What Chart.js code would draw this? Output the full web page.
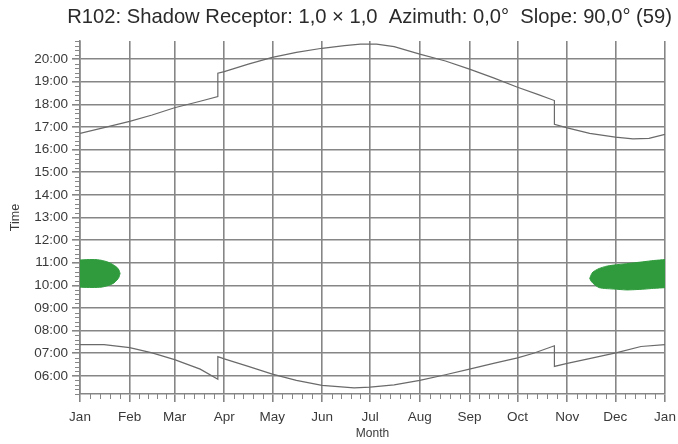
<!DOCTYPE html>
<html><head><meta charset="utf-8">
<script src="https://cdn.jsdelivr.net/npm/chart.js@4.4.0/dist/chart.umd.min.js"></script>
<style>html,body{margin:0;padding:0;background:#fff}</style>
</head><body>
<canvas id="c" width="678" height="444" style="display:block;width:678px;height:444px"></canvas>
<script>
// ---- data ----
const chartTitle = 'R102: Shadow Receptor: 1,0 \u00d7 1,0  Azimuth: 0,0\u00b0  Slope: 90,0\u00b0 (59)';
const monthLabels = ['Jan','Feb','Mar','Apr','May','Jun','Jul','Aug','Sep','Oct','Nov','Dec','Jan'];
const monthStartDays = [0,31,59,90,120,151,181,212,243,273,304,334,365];
const hourTicks = [6,7,8,9,10,11,12,13,14,15,16,17,18,19,20];

// sunset (upper curve), day of year -> decimal hour
const sunsetDays  = [0, 15, 31, 45, 59, 75, 86, 86, 90, 105, 120, 135, 151, 165, 175, 185, 196, 212, 228, 243, 258, 273, 286, 296, 296, 304, 318, 334, 345, 355, 365];
const sunsetHours = [16.72, 16.97, 17.25, 17.53, 17.85, 18.14, 18.35, 19.38, 19.45, 19.78, 20.08, 20.3, 20.48, 20.6, 20.66, 20.66, 20.55, 20.22, 19.92, 19.56, 19.17, 18.76, 18.43, 18.17, 17.12, 16.96, 16.72, 16.55, 16.48, 16.5, 16.68];

// sunrise (lower curve)
const sunriseDays  = [0, 15, 31, 45, 59, 75, 86, 86, 90, 105, 120, 135, 151, 171, 181, 196, 212, 228, 243, 258, 273, 283, 296, 296, 304, 320, 335, 350, 365];
const sunriseHours = [7.38, 7.38, 7.25, 7.02, 6.72, 6.3, 5.85, 6.85, 6.75, 6.42, 6.08, 5.8, 5.58, 5.47, 5.5, 5.6, 5.8, 6.05, 6.3, 6.55, 6.8, 7.0, 7.33, 6.42, 6.55, 6.8, 7.03, 7.3, 7.38];

// shadow periods (green): start / end time of shadow per day
const earlyShadowDays  = [0, 5, 10, 14, 17, 19, 21, 23, 24.3, 25];
const earlyShadowEnd   = [11.12, 11.14, 11.14, 11.1, 11.04, 10.98, 10.9, 10.8, 10.68, 10.53];
const earlyShadowStart = [9.92, 9.91, 9.91, 9.93, 9.98, 10.03, 10.1, 10.23, 10.36, 10.53];

const lateShadowDays  = [318, 319, 320, 322, 324, 328, 333, 341, 351, 358, 365];
const lateShadowEnd   = [10.31, 10.48, 10.59, 10.68, 10.75, 10.84, 10.9, 10.96, 11.04, 11.1, 11.14];
const lateShadowStart = [10.31, 10.18, 10.1, 9.98, 9.9, 9.86, 9.84, 9.8, 9.83, 9.87, 9.9];

// ---- build ----
const pts = (xs, ys) => xs.map((x, i) => ({x, y: ys[i]}));
const GRID = '#868686';
const TEXT = '#3a3a3a';
const GREEN = '#2f9b3d';
const FONT = "'Liberation Sans', Arial, sans-serif";

const lineDs = (data) => ({data, showLine: true, borderColor: '#6a6a6a', borderWidth: 1.2, pointRadius: 0, tension: 0, fill: false});
const shadeDs = (data, fill) => ({data, showLine: true, borderColor: GREEN, backgroundColor: GREEN, borderWidth: 1, pointRadius: 0, tension: 0.2, fill});

const minorTicks = {
  id: 'minorTicks',
  afterDraw(chart) {
    const {ctx, scales: {x, y}} = chart;
    ctx.save();
    ctx.strokeStyle = GRID;
    ctx.lineWidth = 1;
    ctx.beginPath();
    for (let m = 0; m < monthStartDays.length - 1; m++) {
      const a = monthStartDays[m], b = monthStartDays[m + 1];
      for (let k = 1; k < 5; k++) {
        const px = Math.round(x.getPixelForValue(a + (b - a) * k / 5)) + 0.5;
        ctx.moveTo(px, y.bottom);
        ctx.lineTo(px, y.bottom + 5);
      }
    }
    for (let i = Math.round(y.min * 5); i <= Math.round(y.max * 5); i++) {
      if (i % 5 === 0) continue;
      const py = Math.round(y.getPixelForValue(i / 5)) + 0.5;
      ctx.moveTo(x.left - 5, py);
      ctx.lineTo(x.left, py);
    }
    ctx.stroke();
    ctx.restore();
  }
};

new Chart(document.getElementById('c'), {
  type: 'scatter',
  data: {
    datasets: [
      shadeDs(pts(earlyShadowDays, earlyShadowEnd), '+1'),
      shadeDs(pts(earlyShadowDays, earlyShadowStart), false),
      shadeDs(pts(lateShadowDays, lateShadowEnd), '+1'),
      shadeDs(pts(lateShadowDays, lateShadowStart), false),
      lineDs(pts(sunsetDays, sunsetHours)),
      lineDs(pts(sunriseDays, sunriseHours))
    ]
  },
  plugins: [minorTicks],
  options: {
    responsive: false,
    animation: false,
    layout: {padding: {left: 0, right: 6, top: 0, bottom: 0}},
    plugins: {
      legend: {display: false},
      tooltip: {enabled: false},
      title: {
        display: true, text: chartTitle, fullSize: true, align: 'end', color: '#2a2a2a',
        font: {family: FONT, size: 20.2, weight: 'normal', lineHeight: 1.2},
        padding: {top: 5.8, bottom: 11}
      }
    },
    scales: {
      x: {
        type: 'linear', min: 0, max: 365,
        afterBuildTicks: s => { s.ticks = monthStartDays.map(v => ({value: v})); },
        afterFit: s => { s.height = 50; s.paddingLeft = 0; s.paddingRight = 13; },
        ticks: {callback: (v, i) => monthLabels[i], autoSkip: false, maxRotation: 0, color: TEXT, padding: 7, font: {family: FONT, size: 13.5}},
        grid: {color: GRID, lineWidth: 1.6, tickLength: 8, tickColor: GRID, tickWidth: 1.6},
        border: {display: true, color: GRID, width: 1.6},
        title: {display: true, text: 'Month', color: TEXT, font: {family: FONT, size: 12}, padding: {top: 0, bottom: 3}}
      },
      y: {
        type: 'linear', min: 5.2, max: 20.8,
        afterBuildTicks: s => { s.ticks = hourTicks.map(v => ({value: v})); },
        afterFit: s => { s.width = 80; s.paddingTop = 0; s.paddingBottom = 0; },
        ticks: {callback: v => String(v).padStart(2, '0') + ':00', autoSkip: false, color: TEXT, padding: 4, font: {family: FONT, size: 13.5}},
        grid: {color: GRID, lineWidth: 1.6, tickLength: 8, tickColor: GRID, tickWidth: 1.6},
        border: {display: true, color: GRID, width: 1.6},
        title: {display: true, text: 'Time', color: TEXT, font: {family: FONT, size: 12.5}, padding: {top: 8, bottom: 0}}
      }
    }
  }
});
</script>
</body></html>
